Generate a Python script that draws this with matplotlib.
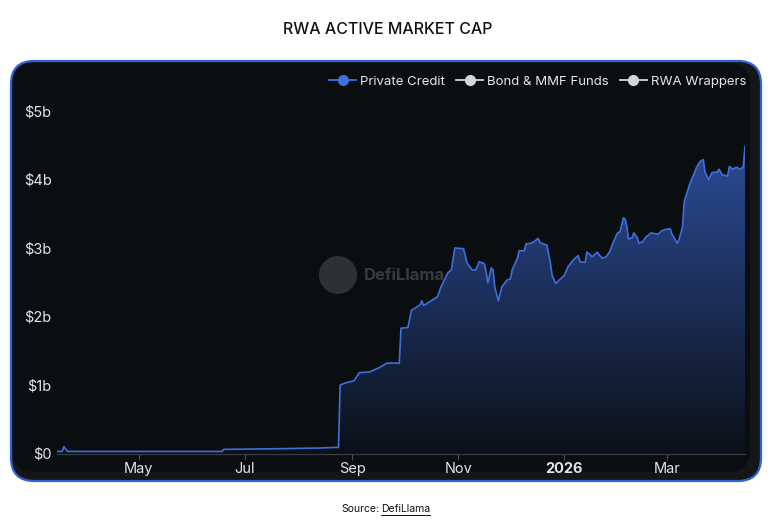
import numpy as np
import pandas as pd
import matplotlib
matplotlib.use('Agg')
import matplotlib.pyplot as plt
import matplotlib.dates as mdates
from matplotlib.patches import FancyBboxPatch, Ellipse, PathPatch
from matplotlib.path import Path
from matplotlib.lines import Line2D
from matplotlib.colors import LinearSegmentedColormap

plt.rcParams['font.family'] = ['Inter', 'DejaVu Sans']

# Private Credit active market cap, in billions of USD
dates = ['2025-03-15', '2025-03-18', '2025-03-19', '2025-03-21', '2025-06-18', '2025-06-19',
         '2025-07-21', '2025-08-13', '2025-08-24', '2025-08-25', '2025-08-28', '2025-09-02',
         '2025-09-05', '2025-09-11', '2025-09-17', '2025-09-21', '2025-09-28', '2025-09-29',
         '2025-10-03', '2025-10-05', '2025-10-10', '2025-10-11', '2025-10-12', '2025-10-17',
         '2025-10-20', '2025-10-22', '2025-10-26', '2025-10-28', '2025-10-30', '2025-11-04',
         '2025-11-06', '2025-11-09', '2025-11-11', '2025-11-13', '2025-11-16', '2025-11-17',
         '2025-11-18', '2025-11-20', '2025-11-21', '2025-11-22', '2025-11-24', '2025-11-26',
         '2025-11-29', '2025-12-01', '2025-12-02', '2025-12-05', '2025-12-06', '2025-12-09',
         '2025-12-10', '2025-12-13', '2025-12-15', '2025-12-17', '2025-12-18', '2025-12-22',
         '2025-12-24', '2025-12-25', '2025-12-27', '2025-12-29', '2026-01-01', '2026-01-03',
         '2026-01-06', '2026-01-09', '2026-01-10', '2026-01-13', '2026-01-14', '2026-01-16',
         '2026-01-17', '2026-01-20', '2026-01-21', '2026-01-23', '2026-01-25', '2026-01-27',
         '2026-01-29', '2026-01-31', '2026-02-01', '2026-02-02', '2026-02-04', '2026-02-05',
         '2026-02-06', '2026-02-07', '2026-02-09', '2026-02-10', '2026-02-12', '2026-02-13',
         '2026-02-15', '2026-02-17', '2026-02-20', '2026-02-24', '2026-02-26', '2026-02-28',
         '2026-03-03', '2026-03-04', '2026-03-07', '2026-03-08', '2026-03-10', '2026-03-11',
         '2026-03-14', '2026-03-16', '2026-03-18', '2026-03-20', '2026-03-22', '2026-03-23',
         '2026-03-25', '2026-03-27', '2026-03-30', '2026-03-31', '2026-04-02', '2026-04-05',
         '2026-04-06', '2026-04-08', '2026-04-10', '2026-04-12', '2026-04-14', '2026-04-15']
private_credit = [0.03, 0.03, 0.10, 0.03, 0.03, 0.06,
                  0.07, 0.08, 0.09, 1.00, 1.03, 1.06,
                  1.18, 1.19, 1.26, 1.32, 1.32, 1.83,
                  1.84, 2.09, 2.17, 2.23, 2.16, 2.24,
                  2.29, 2.43, 2.64, 2.68, 3.00, 2.99,
                  2.78, 2.68, 2.68, 2.80, 2.77, 2.65,
                  2.49, 2.71, 2.68, 2.43, 2.23, 2.43,
                  2.53, 2.55, 2.68, 2.85, 2.96, 2.96,
                  3.06, 3.07, 3.10, 3.14, 3.08, 3.04,
                  2.78, 2.60, 2.48, 2.53, 2.60, 2.72,
                  2.82, 2.89, 2.80, 2.79, 2.94, 2.90,
                  2.87, 2.94, 2.90, 2.85, 2.87, 2.94,
                  3.07, 3.19, 3.23, 3.23, 3.44, 3.42,
                  3.31, 3.13, 3.15, 3.22, 3.15, 3.07,
                  3.09, 3.16, 3.22, 3.20, 3.25, 3.27,
                  3.28, 3.20, 3.07, 3.12, 3.30, 3.67,
                  3.92, 4.04, 4.17, 4.26, 4.29, 4.11,
                  4.00, 4.10, 4.11, 4.15, 4.07, 4.05,
                  4.19, 4.15, 4.18, 4.15, 4.18, 4.48]

x_ticks = ['2025-05-01', '2025-07-01', '2025-09-01', '2025-11-01', '2026-01-01', '2026-03-01']
x_labels = ['May', 'Jul', 'Sep', 'Nov', '2026', 'Mar']
y_ticks = [0, 1, 2, 3, 4, 5]
y_labels = ['$0', '$1b', '$2b', '$3b', '$4b', '$5b']
legend_names = ['Private Credit', 'Bond & MMF Funds', 'RWA Wrappers']

W, H = 775, 527
fig = plt.figure(figsize=(W / 100, H / 100), dpi=100)
fig.patch.set_facecolor('white')

def fx(px):
    return px / W

def fy(py):
    return 1 - py / H

# card with blue border, lighter frame, darker inner panel
card = FancyBboxPatch((fx(11), fy(481)), fx(750), (481 - 61) / H,
                      boxstyle='round,pad=0,rounding_size=0.03',
                      transform=fig.transFigure, facecolor='#151617',
                      edgecolor='#2f63d4', linewidth=1.6, zorder=0,
                      mutation_aspect=W / H)
fig.patches.append(card)
inner = FancyBboxPatch((fx(13), fy(472)), fx(737), (472 - 63) / H,
                       boxstyle='round,pad=0,rounding_size=0.028',
                       transform=fig.transFigure, facecolor='#0b0e11',
                       edgecolor='none', zorder=0.5, mutation_aspect=W / H)
fig.patches.append(inner)

fig.text(0.5, fy(29), 'RWA ACTIVE MARKET CAP', ha='center', va='center',
         fontsize=11.5, color='#111111', fontweight='medium')

ax = fig.add_axes([fx(57), fy(453.5), fx(745 - 57), (453.5 - 100.7) / H])
ax.set_facecolor('none')
ax.set_zorder(1)

d = mdates.date2num(pd.to_datetime(dates))
v = np.array(private_credit)
xmin = mdates.date2num(pd.Timestamp('2025-03-15'))
xmax = mdates.date2num(pd.Timestamp('2026-04-15'))
ytop = 5.15

# gradient fill under the line (last vertex is the closing one)
verts = [(d[0], 0)] + list(zip(d, v)) + [(d[-1], 0), (d[0], 0)]
clip = Path(verts, closed=True)
grad = np.linspace(1, 0, 256).reshape(-1, 1)
cmap = LinearSegmentedColormap.from_list('g', ['#0c1119', '#2c4c98'])
img = ax.imshow(grad, extent=[xmin, xmax, 0, 4.5], aspect='auto', cmap=cmap,
                origin='upper', zorder=1)
img.set_clip_path(PathPatch(clip, transform=ax.transData))
ax.plot(d, v, color='#3d6fdc', linewidth=1.2, zorder=3)

ax.set_xlim(xmin, xmax)
ax.set_ylim(0, ytop)

ax.set_xticks(mdates.date2num(pd.to_datetime(x_ticks)))
ax.set_xticklabels(x_labels)
ax.set_yticks(y_ticks)
ax.set_yticklabels(y_labels)
for lab in ax.get_xticklabels():
    if lab.get_text() == '2026':
        lab.set_fontweight('bold')
ax.tick_params(axis='x', colors='#4a4d52', length=4, width=0.8, labelsize=10.5,
               labelcolor='#e4e4e4', pad=2)
ax.tick_params(axis='y', length=0, labelsize=10.5, labelcolor='#e4e4e4', pad=4)
for s in ['top', 'right', 'left']:
    ax.spines[s].set_visible(False)
ax.spines['bottom'].set_color('#3a3d42')
ax.spines['bottom'].set_linewidth(0.9)

# watermark
wm = Ellipse((fx(338), fy(275)), 38 / W, 38 / H, transform=fig.transFigure,
             facecolor='#8a8d92', edgecolor='none', alpha=0.28, zorder=2)
fig.patches.append(wm)
fig.text(fx(364), fy(275), 'DefiLlama', ha='left', va='center', fontsize=12,
         fontweight='bold', color='#8a8d92', alpha=0.35, zorder=2)

# legend
handles = [Line2D([], [], color='#3d6fdc', marker='o', markersize=7, linewidth=1.3),
           Line2D([], [], color='#d6d6d6', marker='o', markersize=7, linewidth=1.3),
           Line2D([], [], color='#d6d6d6', marker='o', markersize=7, linewidth=1.3)]
leg = fig.legend(handles, legend_names, loc='center right', ncol=3,
                 bbox_to_anchor=(fx(746), fy(82)), frameon=False, fontsize=9.5,
                 handlelength=2.0, handletextpad=0.3, columnspacing=0.9,
                 borderaxespad=0, borderpad=0)
leg.set_zorder(3)
for t in leg.get_texts():
    t.set_color('#e6e6e6')

# source line
fig.text(fx(379), fy(509), 'Source:', ha='right', va='center', fontsize=7.5, color='#111111')
src = fig.text(fx(381), fy(509), 'DefiLlama', ha='left', va='center', fontsize=7.5,
               color='#111111')
fig.canvas.draw()
bb = src.get_window_extent().transformed(fig.transFigure.inverted())
fig.add_artist(Line2D([bb.x0, bb.x1], [bb.y0 - 0.002, bb.y0 - 0.002],
                      transform=fig.transFigure, color='#111111', linewidth=0.7))

fig.savefig('out.png', dpi=100)
